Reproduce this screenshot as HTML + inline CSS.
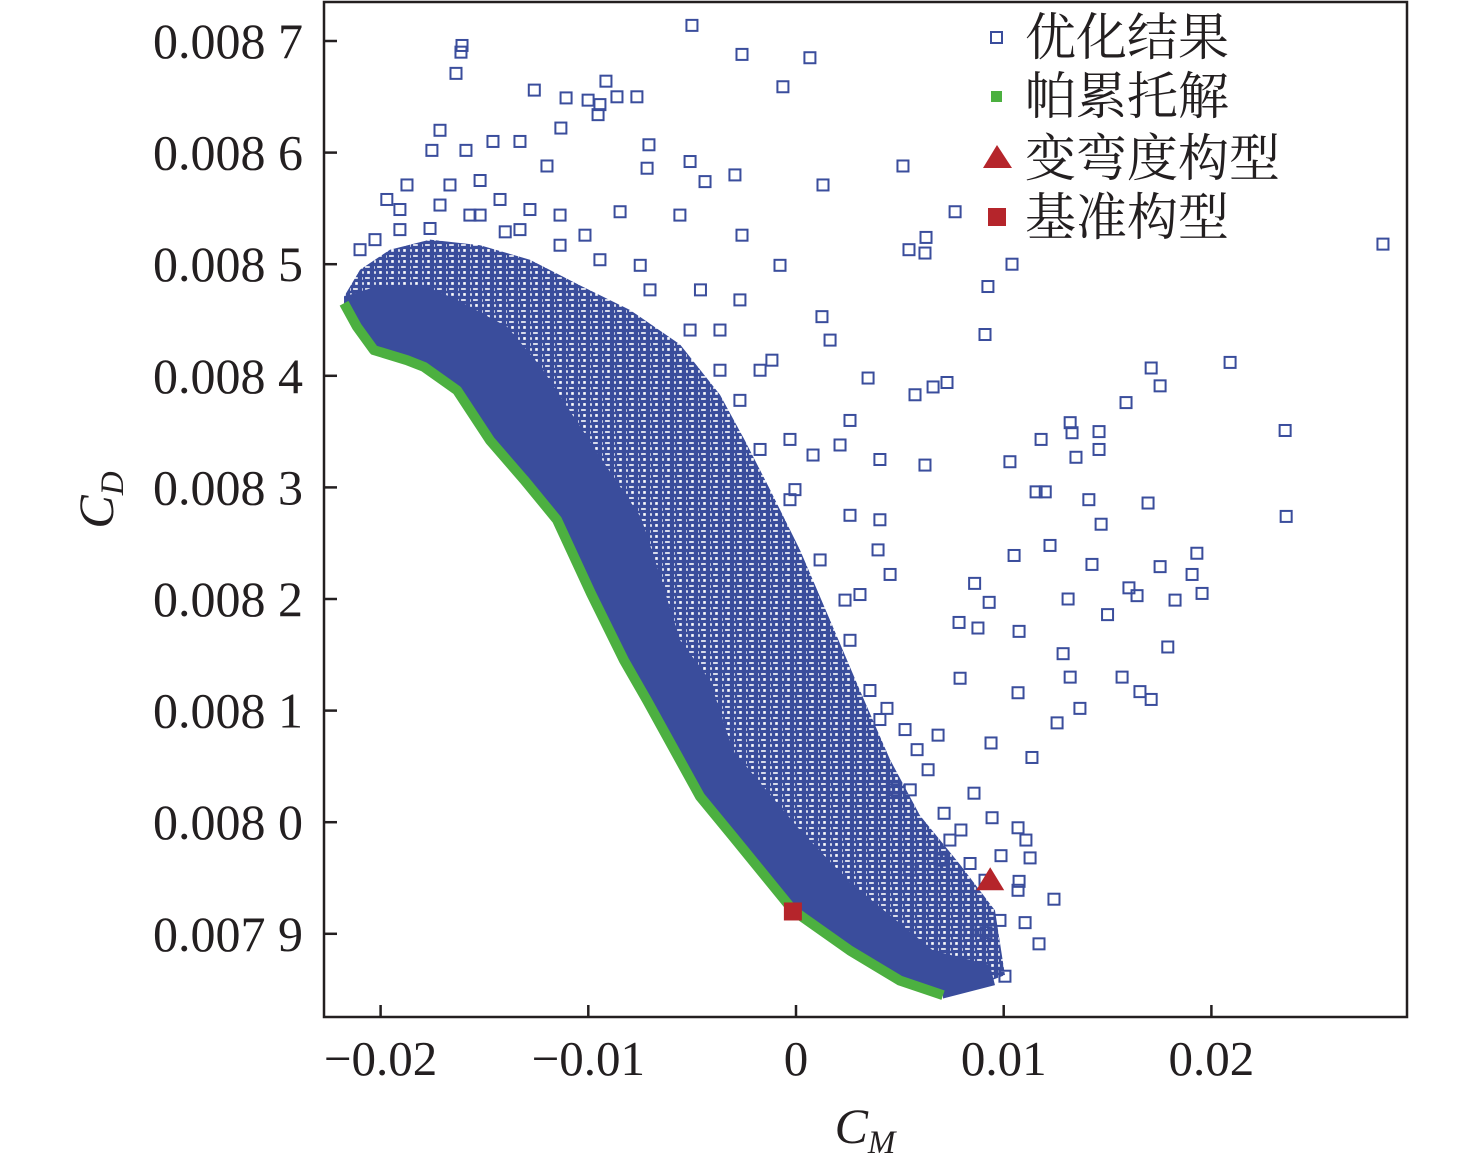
<!DOCTYPE html>
<html><head><meta charset="utf-8"><style>
html,body{margin:0;padding:0;background:#fff;}
svg{display:block;}
text{font-family:"Liberation Serif","Noto Serif CJK SC",serif;fill:#231f20;}
</style></head><body>
<svg id="chart" width="1476" height="1171" viewBox="0 0 1476 1171" xmlns="http://www.w3.org/2000/svg">
<defs>
<pattern id="sqpat" width="12" height="11" patternUnits="userSpaceOnUse">
<rect x="1" y="1" width="10" height="10" fill="none" stroke="#3a4d9c" stroke-width="2.4"/>
<rect x="6" y="5" width="10" height="10" fill="none" stroke="#3a4d9c" stroke-width="2.4"/>
<rect x="-5" y="6" width="10" height="10" fill="none" stroke="#3a4d9c" stroke-width="2.4"/>
<rect x="4" y="-4" width="10" height="10" fill="none" stroke="#3a4d9c" stroke-width="2.2"/>
</pattern>
<clipPath id="plotclip"><rect x="325" y="3" width="1081" height="1013"/></clipPath>
</defs>
<g id="plot" clip-path="url(#plotclip)"></g>
<rect x="324" y="2" width="1083" height="1015" fill="none" stroke="#231f20" stroke-width="2.5"/>
<g id="axes"></g>
<text transform="translate(113,500) rotate(-90)" font-size="50" font-style="italic" text-anchor="middle">C<tspan font-size="33" dy="10">D</tspan></text>
<text x="865" y="1143" font-size="50" font-style="italic" text-anchor="middle">C<tspan font-size="33" dy="10">M</tspan></text>
<g>
<rect x="991" y="32" width="11" height="11" fill="none" stroke="#3a4d9c" stroke-width="2"/>
<text x="1025" y="55" font-size="51">优化结果</text>
<rect x="991" y="91" width="11" height="11" fill="#4cb040"/>
<text x="1025" y="114" font-size="51">帕累托解</text>
<polygon points="997,145 983,168 1012,168" fill="#b5252b"/>
<text x="1025" y="176" font-size="51">变弯度构型</text>
<rect x="988" y="208" width="18" height="18" fill="#b5252b"/>
<text x="1025" y="235" font-size="51">基准构型</text>
</g>
</svg>
<script>
const xTicks=[-0.02,-0.01,0,0.01,0.02];
const xTickLabels=["\u22120.02","\u22120.01","0","0.01","0.02"];
const yTicks=[0.0087,0.0086,0.0085,0.0084,0.0083,0.0082,0.0081,0.0080,0.0079];
const yTickLabels=["0.008 7","0.008 6","0.008 5","0.008 4","0.008 3","0.008 2","0.008 1","0.008 0","0.007 9"];
// Pareto front
const paretoCM=[-0.02176,-0.02114,-0.02032,-0.01873,-0.01791,-0.01632,-0.01473,-0.01310,-0.01151,-0.00987,-0.00828,-0.00717,-0.00462,-0.00303,-0.00014,0.00260,0.00501,0.00708];
const paretoCD=[0.008465,0.008444,0.008423,0.008414,0.008408,0.008387,0.008342,0.008307,0.008271,0.008205,0.008145,0.008109,0.008023,0.007987,0.007921,0.007885,0.007858,0.007845];
// dense (solid) cloud upper edge
const denseCM=[-0.02176,-0.02003,-0.01791,-0.01632,-0.01391,-0.01228,-0.01069,-0.00910,-0.00746,-0.00669,-0.00558,-0.00414,-0.00303,0.00019,0.00260,0.00660,0.00934,0.00958,0.00708];
const denseCD=[0.008471,0.008481,0.008481,0.008468,0.008444,0.008408,0.008363,0.008318,0.008273,0.008229,0.008163,0.008127,0.008064,0.007993,0.007946,0.007885,0.007872,0.007854,0.007842];
// medium-density cloud upper edge
const midCM=[-0.02176,-0.02099,-0.01955,-0.01762,-0.01521,-0.01281,-0.01040,-0.00799,-0.00558,-0.00366,-0.00246,-0.00125,0.00019,0.00164,0.00308,0.00453,0.00597,0.00790,0.00958,0.01006,0.00708];
const midCD=[0.008471,0.008495,0.008513,0.008522,0.008517,0.008504,0.008481,0.008459,0.008428,0.008383,0.008342,0.008298,0.008244,0.008181,0.008118,0.008056,0.008006,0.007962,0.007921,0.007863,0.007842];
// sparse optimization results
const resCM=[-0.00501,-0.0026,0.00067,-0.00063,-0.01608,-0.01613,-0.01637,-0.00915,-0.0126,-0.01107,-0.01001,-0.00944,-0.00862,-0.00766,-0.00953,-0.01132,-0.01714,-0.01753,-0.01589,-0.01459,-0.01329,-0.01199,-0.00708,-0.00717,-0.0051,-0.00438,-0.00294,0.0013,0.00515,0.00766,-0.0197,-0.01873,-0.01666,-0.01521,-0.00847,-0.00559,-0.0026,-0.00077,0.00544,0.00621,0.00626,0.0104,0.02826,0.00924,0.00125,0.00164,0.00347,0.0091,0.00573,0.0066,0.00727,0.0209,0.0171,0.01753,0.01589,0.0132,0.0118,0.0103,0.01329,0.01459,0.01459,0.01348,0.01156,0.0120,0.0141,0.01469,0.01695,0.02355,0.0236,0.0105,0.01223,0.01425,0.01753,0.0193,0.01907,0.01955,0.01825,0.01642,0.01603,0.0150,0.0131,0.01074,0.0093,0.0086,0.00785,0.00876,0.0179,0.01286,0.0132,0.0157,0.01656,0.0171,0.01367,0.01069,0.0079,0.01257,0.00939,0.01136,0.00636,0.00857,0.00713,0.00794,0.00944,0.01069,0.01107,0.01127,0.01074,0.01242,0.01103,0.0117,0.00838,0.00693,0.0055,0.01006,0.00838,0.00915,0.00987,0.01069,0.00356,0.00308,0.00395,0.00453,0.00236,0.00404,0.0026,0.00212,-0.00116,-0.00173,-0.00173,0.0026,0.00404,0.00621,-0.00029,-0.00005,0.00082,0.00525,0.00438,0.00583,0.00477,0.00684,-0.01907,-0.01762,-0.0157,-0.0140,-0.01281,-0.01136,-0.01016,-0.0075,-0.0046,-0.00366,-0.0027,-0.02027,-0.00944,-0.00703,-0.0051,-0.00366,-0.0027,-0.00029,0.00116,0.0026,0.00404,0.0055,0.00741,0.0091,0.00982,-0.01907,-0.01714,-0.01521,-0.01329,-0.01136,-0.01425,-0.02099];
const resCD=[0.008714,0.008688,0.008685,0.008659,0.008696,0.008690,0.008671,0.008664,0.008656,0.008649,0.008647,0.008643,0.008650,0.008650,0.008634,0.008622,0.008620,0.008602,0.008602,0.008610,0.008610,0.008588,0.008607,0.008586,0.008592,0.008574,0.008580,0.008571,0.008588,0.008547,0.008558,0.008571,0.008571,0.008575,0.008547,0.008544,0.008526,0.008499,0.008513,0.008510,0.008524,0.008500,0.008518,0.008480,0.008453,0.008432,0.008398,0.008437,0.008383,0.008390,0.008394,0.008412,0.008407,0.008391,0.008376,0.008358,0.008343,0.008323,0.008349,0.008350,0.008334,0.008327,0.008296,0.008296,0.008289,0.008267,0.008286,0.008351,0.008274,0.008239,0.008248,0.008231,0.008229,0.008241,0.008222,0.008205,0.008199,0.008203,0.008210,0.008186,0.008200,0.008171,0.008197,0.008214,0.008179,0.008174,0.008157,0.008151,0.008130,0.008130,0.008117,0.008110,0.008102,0.008116,0.008129,0.008089,0.008071,0.008058,0.008047,0.008026,0.008008,0.007993,0.008004,0.007995,0.007984,0.007968,0.007947,0.007931,0.007910,0.007891,0.007963,0.007966,0.007957,0.007862,0.007903,0.007901,0.007970,0.007939,0.008118,0.008204,0.008244,0.008222,0.008199,0.008271,0.008360,0.008338,0.008414,0.008405,0.008334,0.008275,0.008325,0.008320,0.008343,0.008298,0.008329,0.008083,0.008102,0.008065,0.008029,0.008078,0.008549,0.008532,0.008544,0.008529,0.008549,0.008517,0.008526,0.008499,0.008477,0.008441,0.008468,0.008522,0.008504,0.008477,0.008441,0.008405,0.008378,0.008289,0.008235,0.008163,0.008092,0.008029,0.007984,0.007948,0.007912,0.008531,0.008553,0.008544,0.008531,0.008544,0.008558,0.008513];
const baselineCM=[-0.00015];
const baselineCD=[0.00792];
const camberCM=[0.00935];
const camberCD=[0.007948];

const NS="http://www.w3.org/2000/svg";
function xs(v){return 796+v*20770;}
function ys(v){return 41+(0.0087-v)*1116000;}
const plot=document.getElementById('plot');
const axes=document.getElementById('axes');
function mk(tag,attrs,parent){const e=document.createElementNS(NS,tag);for(const k in attrs)e.setAttribute(k,attrs[k]);parent.appendChild(e);return e;}

let mp=midCM.map((c,i)=>xs(c)+','+ys(midCD[i]));
for(let i=paretoCM.length-1;i>=0;i--)mp.push(xs(paretoCM[i])+','+ys(paretoCD[i]));
const mid=mk('polygon',{points:mp.join(' '),fill:'url(#sqpat)'},plot);


let dp=denseCM.map((c,i)=>xs(c)+','+ys(denseCD[i]));
for(let i=paretoCM.length-1;i>=0;i--)dp.push(xs(paretoCM[i])+','+ys(paretoCD[i]));
const dense=mk('polygon',{points:dp.join(' '),fill:'#3a4d9c'},plot);


const pp=paretoCM.map((c,i)=>xs(c)+','+ys(paretoCD[i])).join(' ');
const pl=mk('polyline',{points:pp,fill:'none',stroke:'#4cb040','stroke-width':10,'stroke-linejoin':'round'},plot);


resCM.forEach((c,i)=>{
  const r=mk('rect',{x:xs(c)-5.5,y:ys(resCD[i])-5.5,width:11,height:11,fill:'none',stroke:'#3a4d9c','stroke-width':2},plot);
  
  
});
baselineCM.forEach((c,i)=>{
  const r=mk('rect',{x:xs(c)-9,y:ys(baselineCD[i])-9,width:18,height:18,fill:'#b5252b'},plot);
  
  
});
camberCM.forEach((c,i)=>{
  const x=xs(c),y=ys(camberCD[i]);
  const t=mk('polygon',{points:`${x},${y-13} ${x-14},${y+10} ${x+14},${y+10}`,fill:'#b5252b'},plot);
  
  
});
xTicks.forEach((v,i)=>{
  const x=xs(v);
  const t=mk('line',{x1:x,x2:x,y1:1017,y2:1005,stroke:'#231f20','stroke-width':2.5},axes);
  
  
  const l=mk('text',{x:x,y:1075,'font-size':49,'text-anchor':'middle'},axes);
  l.textContent=xTickLabels[i];
  
  
});
yTicks.forEach((v,i)=>{
  const y=ys(v);
  const t=mk('line',{x1:324,x2:337,y1:y,y2:y,stroke:'#231f20','stroke-width':2.5},axes);
  
  
  const l=mk('text',{x:303,y:y+17,'font-size':50,'text-anchor':'end'},axes);
  l.textContent=yTickLabels[i];
  
  
});
</script>
</body></html>
